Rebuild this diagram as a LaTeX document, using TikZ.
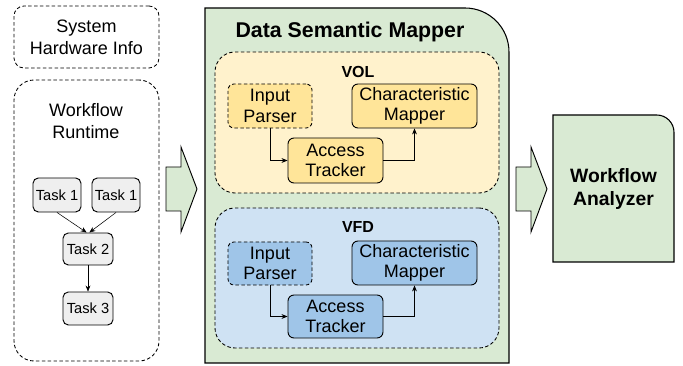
\documentclass[tikz,border=0pt]{standalone}
\usepackage{fontspec}
\setmainfont{Liberation Sans}
\usetikzlibrary{arrows.meta,fit,positioning}
\definecolor{mapgreen}{HTML}{D9EAD3}
\definecolor{volyellow}{HTML}{FFF2CC}
\definecolor{volinner}{HTML}{FFE599}
\definecolor{vfdblue}{HTML}{CFE2F3}
\definecolor{vfdinner}{HTML}{9FC5E8}
\definecolor{taskgray}{HTML}{EFEFEF}

\begin{document}
\begin{tikzpicture}[x=0.75pt,y=-0.75pt, >={Stealth[length=4.5pt,width=3.6pt]},
		grpbox/.style={draw, dash pattern=on 2.6pt off 1.8pt, line width=0.65pt, inner sep=0pt},
		unitbox/.style={draw, line width=0.7pt, rounded corners=4.5pt, inner sep=0pt, align=center, font=\fontsize{13.5}{15.5}\selectfont},
		taskbox/.style={draw, fill=taskgray, line width=0.7pt, rounded corners=4pt, inner sep=0pt, font=\fontsize{11}{12}\selectfont},
		blockarrow/.style={draw, fill=mapgreen, line width=0.7pt, line join=miter}]
		\useasboundingbox (0,0) rectangle (683,366);
		% ===== LEFT: inputs =====
		\node[grpbox, rounded corners=7.5pt, minimum width=108.75pt, minimum height=46.5pt, align=center, font=\fontsize{13.5}{16.5}\selectfont] (hwinfo) at (86.5,37) {System\\Hardware Info};
		\node[grpbox, rounded corners=15pt, fit={(14,80) (159,361)}] (runtime) {};
		\node[align=center, font=\fontsize{13.5}{16.5}\selectfont] (runtimelbl) at (86,121) {Workflow\\Runtime};
		% Task graph
		\node[taskbox, minimum width=36pt, minimum height=25.5pt] (taskA) at (57,195) {Task 1};
		\node[taskbox, minimum width=36pt, minimum height=25.5pt] (taskB) at (116,195) {Task 1};
		\node[taskbox, minimum width=37.5pt, minimum height=24pt] (taskC) at (88,249) {Task 2};
		\node[taskbox, minimum width=37.5pt, minimum height=24.75pt] (taskD) at (88,308.5) {Task 3};
		\draw[->] (taskA.south) -- ([xshift=-1pt]taskC.north);
		\draw[->] (taskB.south) -- ([xshift=1pt]taskC.north);
		\draw[->] (taskC) -- (taskD);
		% ===== Block arrow into mapper =====
		\draw[blockarrow] (166,167) -- (181,167) -- (181,147) -- (197,189) -- (181,232) -- (181,211) -- (166,211) -- cycle;
		% ===== CENTER: Data Semantic Mapper =====
		\draw[fill=mapgreen, line width=0.8pt] (205,363) -- (205,8) [rounded corners=33pt] -- (509,8) [sharp corners] -- (509,363) -- cycle;
		\node[font=\bfseries\fontsize{16}{18}\selectfont] (dsmlbl) at (350,32) {Data Semantic Mapper};
		% VOL group
		\node[grpbox, fill=volyellow, rounded corners=15pt, fit={(215,52) (499,193)}] (vol) {};
		\node[font=\bfseries\fontsize{12}{14}\selectfont] (vollbl) at (358,72) {VOL};
		\node[unitbox, grpbox, fill=volinner, minimum width=63pt, minimum height=33pt] (volparser) at (270,106) {Input\\Parser};
		\node[unitbox, fill=volinner, minimum width=93.75pt, minimum height=33pt] (volmapper) at (414.5,106) {Characteristic\\Mapper};
		\node[unitbox, fill=volinner, minimum width=71.25pt, minimum height=33.75pt] (voltracker) at (335.5,160.5) {Access\\Tracker};
		\draw[->] (volparser.south) |- (voltracker.west);
		\draw[->] (voltracker.east) -| (volmapper.south);
		% VFD group
		\node[grpbox, fill=vfdblue, rounded corners=15pt, fit={(215,208) (499,348)}] (vfd) {};
		\node[font=\bfseries\fontsize{12}{14}\selectfont] (vfdlbl) at (358,227) {VFD};
		\node[unitbox, grpbox, fill=vfdinner, minimum width=63pt, minimum height=32.25pt] (vfdparser) at (270,263.5) {Input\\Parser};
		\node[unitbox, fill=vfdinner, minimum width=93.75pt, minimum height=33pt] (vfdmapper) at (414.5,263) {Characteristic\\Mapper};
		\node[unitbox, fill=vfdinner, minimum width=71.25pt, minimum height=32.25pt] (vfdtracker) at (335.5,316.5) {Access\\Tracker};
		\draw[->] (vfdparser.south) |- (vfdtracker.west);
		\draw[->] (vfdtracker.east) -| (vfdmapper.south);
		% ===== Block arrow into analyzer =====
		\draw[blockarrow] (516,167) -- (531,167) -- (531,147) -- (547,189) -- (531,232) -- (531,211) -- (516,211) -- cycle;
		% ===== RIGHT: Workflow Analyzer =====
		\draw[fill=mapgreen, line width=0.8pt] (553,262) -- (553,115) [rounded corners=13pt] -- (674,115) [sharp corners] -- (674,262) -- cycle;
		\node[align=center, font=\bfseries\fontsize{14.5}{17.5}\selectfont] (analyzer) at (613.5,189) {Workflow\\Analyzer};
	\end{tikzpicture}
\end{document}
